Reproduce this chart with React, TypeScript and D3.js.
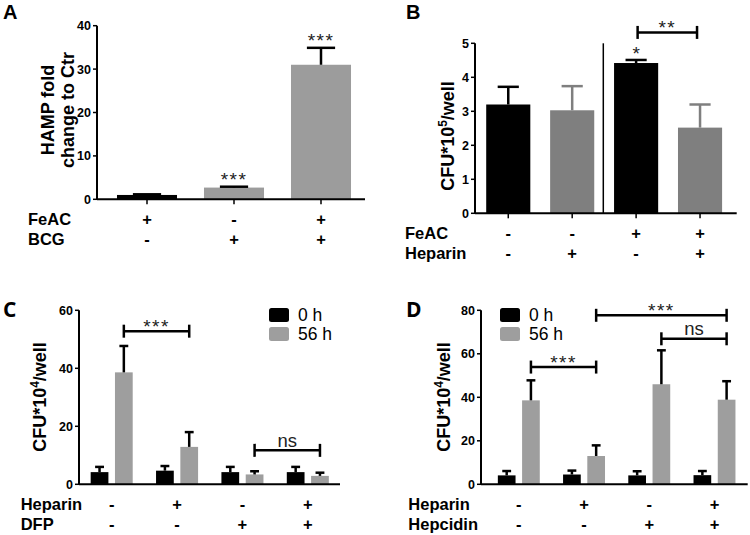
import React from "react";
import * as d3 from "d3";

// ---------- DATA ----------
// Panel A
const aCats = ["c1", "c2", "c3"];
const aFeAC = ["+", "-", "+"];
const aBCG = ["-", "+", "+"];
const aValues = [1.0, 2.7, 31.0];
const aErrors = [0.15, 0.2, 3.9];
const aStars = ["", "***", "***"];
const aTicks = [0, 10, 20, 30, 40];

// Panel B
const bCats = ["c1", "c2", "c3", "c4"];
const bFeAC = ["-", "-", "+", "+"];
const bHeparin = ["-", "+", "-", "+"];
const bValues = [3.2, 3.03, 4.42, 2.52];
const bErrors = [0.52, 0.71, 0.09, 0.68];
const bStars = ["", "", "*", ""];
const bTicks = [0, 1, 2, 3, 4, 5];
const bBrackets = [{ from: 2, to: 3, label: "**", level: 5.32 }];

// Panel C
const cCats = ["g1", "g2", "g3", "g4"];
const cHeparin = ["-", "+", "-", "+"];
const cDFP = ["-", "-", "+", "+"];
const c0h = [4.2, 4.7, 4.2, 4.2];
const c0hErr = [1.8, 1.6, 1.8, 1.8];
const c56h = [38.6, 12.9, 3.4, 2.9];
const c56hErr = [9.1, 5.1, 1.1, 1.1];
const cTicks = [0, 20, 40, 60];
const cBrackets = [
  { from: 0, to: 1, label: "***", level: 52.8 },
  { from: 2, to: 3, label: "ns", level: 11.7 },
];

// Panel D
const dCats = ["g1", "g2", "g3", "g4"];
const dHeparin = ["-", "+", "-", "+"];
const dHepcidin = ["-", "-", "+", "+"];
const d0h = [4.1, 4.5, 4.1, 4.2];
const d0hErr = [2.0, 1.8, 1.9, 1.9];
const d56h = [38.6, 13.0, 46.0, 38.9];
const d56hErr = [9.2, 4.9, 15.6, 8.5];
const dTicks = [0, 20, 40, 60, 80];
const dBrackets = [
  { from: 0, to: 1, label: "***", level: 53.9 },
  { from: 1, to: 3, label: "***", level: 77.7 },
  { from: 2, to: 3, label: "ns", level: 66.9 },
];

const seriesNames = ["0 h", "56 h"];

// ---------- STYLE ----------
const FONT = "'Liberation Sans', Arial, sans-serif";
const BLACK = "#000";
const GRAY_A = "#9c9c9c";
const GRAY_B = "#7f7f7f";
const GRAY_CD = "#9e9e9e";
const TICK_FS = 12.5;
const ROW_FS = 16.5;
const YLAB_FS = 18;

type Scale = (v: number) => number;

function YAxis({ x, y, ticks }: { x: number; y: Scale; ticks: number[] }) {
  const top = y(ticks[ticks.length - 1]);
  return (
    <g>
      <line x1={x} x2={x} y1={top} y2={y(0)} stroke={BLACK} strokeWidth={2} />
      {ticks.map((t) => (
        <g key={t}>
          <line x1={x - 4} x2={x} y1={y(t)} y2={y(t)} stroke={BLACK} strokeWidth={1.5} />
          <text x={x - 6} y={y(t)} dy="0.36em" textAnchor="end" fontSize={TICK_FS} fontWeight="bold">
            {t}
          </text>
        </g>
      ))}
    </g>
  );
}

function ErrBar({ cx, yTop, yBar, w, color }: { cx: number; yTop: number; yBar: number; w: number; color: string }) {
  return (
    <g stroke={color} strokeWidth={2.5}>
      <line x1={cx} x2={cx} y1={yBar} y2={yTop} />
      <line x1={cx - w / 2} x2={cx + w / 2} y1={yTop} y2={yTop} />
    </g>
  );
}

function Bracket({ x1, x2, y, label }: { x1: number; x2: number; y: number; label: string }) {
  const isStar = label.includes("*");
  return (
    <g>
      <g stroke={BLACK} strokeWidth={2.5}>
        <line x1={x1} x2={x2} y1={y} y2={y} />
        <line x1={x1} x2={x1} y1={y - 6.5} y2={y + 6.5} />
        <line x1={x2} x2={x2} y1={y - 6.5} y2={y + 6.5} />
      </g>
      <text
        x={(x1 + x2) / 2}
        y={isStar ? y + 2 : y - 3.5}
        textAnchor="middle"
        fontSize={isStar ? 19 : 18.5}
        letterSpacing={isStar ? 1.5 : 0}
        fill="#222"
      >
        {label}
      </text>
    </g>
  );
}

function RowLabels({ x, xs, rows }: { x: number; xs: number[]; rows: { name: string; vals: string[]; y: number }[] }) {
  return (
    <g fontSize={ROW_FS} fontWeight="bold">
      {rows.map((r) => (
        <g key={r.name}>
          <text x={x} y={r.y}>{r.name}</text>
          {r.vals.map((v, i) => (
            <text key={i} x={xs[i]} y={r.y} textAnchor="middle">{v}</text>
          ))}
        </g>
      ))}
    </g>
  );
}

function Legend({ x, y }: { x: number; y: number }) {
  const colors = [BLACK, GRAY_CD];
  return (
    <g>
      {seriesNames.map((s, i) => (
        <g key={s}>
          <rect x={x} y={y + i * 19} width={20} height={14} rx={2.5} fill={colors[i]} />
          <text x={x + 29} y={y + i * 19 + 7} dy="0.36em" fontSize={17.5}>{s}</text>
        </g>
      ))}
    </g>
  );
}

function CfuLabel({ x, y, exp }: { x: number; y: number; exp: string }) {
  return (
    <text transform={`translate(${x},${y}) rotate(-90)`} textAnchor="middle" fontSize={YLAB_FS} fontWeight="bold">
      CFU*10<tspan dy={-7} fontSize={12}>{exp}</tspan>
      <tspan dy={7}>/well</tspan>
    </text>
  );
}

function PanelA() {
  const axisX = 97, xEnd = 365;
  const y = d3.scaleLinear().domain([0, 40]).range([199.3, 25.7]);
  const x = d3.scaleBand<string>().domain(aCats).range([103.5, 364.5]).paddingInner(0.31).paddingOuter(0.155);
  const bw = x.bandwidth();
  const centers = aCats.map((c) => (x(c) as number) + bw / 2);
  return (
    <g>
      <text x={3} y={19} fontSize={20} fontWeight="bold">A</text>
      {aCats.map((c, i) => {
        const color = aBCG[i] === "-" ? BLACK : GRAY_A;
        return (
          <rect key={c} x={x(c)} y={y(aValues[i])} width={bw} height={y(0) - y(aValues[i])} fill={color} />
        );
      })}
      {aCats.map((c, i) => (
        <ErrBar key={c} cx={centers[i]} yBar={y(aValues[i])} yTop={y(aValues[i] + aErrors[i])} w={bw * 0.47} color={BLACK} />
      ))}
      {aCats.map((c, i) => (
        <text key={c} x={centers[i]} y={y(aValues[i] + aErrors[i]) - 1} textAnchor="middle" fontSize={19} letterSpacing={1.5} fill="#222">
          {aStars[i]}
        </text>
      ))}
      <YAxis x={axisX} y={y} ticks={aTicks} />
      <line x1={axisX} x2={xEnd} y1={y(0)} y2={y(0)} stroke={BLACK} strokeWidth={2} />
      {centers.map((cx, i) => (
        <line key={i} x1={cx} x2={cx} y1={y(0)} y2={y(0) + 5} stroke={BLACK} strokeWidth={1.5} />
      ))}
      <g fontSize={YLAB_FS} fontWeight="bold" textAnchor="middle">
        <text transform={`translate(48,110) rotate(-90)`} dy="0.36em">HAMP fold</text>
        <text transform={`translate(68,110) rotate(-90)`} dy="0.36em">change to Ctr</text>
      </g>
      <RowLabels
        x={28}
        xs={centers}
        rows={[
          { name: "FeAC", vals: aFeAC, y: 225 },
          { name: "BCG", vals: aBCG, y: 245 },
        ]}
      />
    </g>
  );
}

function PanelB() {
  const axisX = 475, xEnd = 736.7;
  const y = d3.scaleLinear().domain([0, 5]).range([213.3, 43.3]);
  const x = d3.scaleBand<string>().domain(bCats).range([476.3, 732]).paddingInner(0.31).paddingOuter(0.155);
  const bw = x.bandwidth();
  const centers = bCats.map((c) => (x(c) as number) + bw / 2);
  return (
    <g>
      <text x={406} y={18.5} fontSize={20} fontWeight="bold">B</text>
      {bCats.map((c, i) => {
        const color = bHeparin[i] === "-" ? BLACK : GRAY_B;
        return (
          <g key={c}>
            <rect x={x(c)} y={y(bValues[i])} width={bw} height={y(0) - y(bValues[i])} fill={color} />
            <ErrBar cx={centers[i]} yBar={y(bValues[i])} yTop={y(bValues[i] + bErrors[i])} w={bw * 0.48} color={color} />
            <text x={centers[i]} y={y(bValues[i] + bErrors[i]) - 0} textAnchor="middle" fontSize={19} fill="#222">
              {bStars[i]}
            </text>
          </g>
        );
      })}
      <line x1={603.3} x2={603.3} y1={y(5)} y2={y(0)} stroke={BLACK} strokeWidth={1.5} />
      {bBrackets.map((b, i) => (
        <Bracket key={i} x1={centers[b.from] + 1.5} x2={centers[b.to] - 3} y={y(b.level)} label={b.label} />
      ))}
      <YAxis x={axisX} y={y} ticks={bTicks} />
      <line x1={axisX} x2={xEnd} y1={y(0)} y2={y(0)} stroke={BLACK} strokeWidth={2} />
      {centers.map((cx, i) => (
        <line key={i} x1={cx} x2={cx} y1={y(0)} y2={y(0) + 5} stroke={BLACK} strokeWidth={1.5} />
      ))}
      <CfuLabel x={454} y={136} exp="5" />
      <RowLabels
        x={405}
        xs={centers}
        rows={[
          { name: "FeAC", vals: bFeAC, y: 238.5 },
          { name: "Heparin", vals: bHeparin, y: 258.5 },
        ]}
      />
    </g>
  );
}

function GroupedPanel({
  letter, letterX, axisX, xEnd, bandRange, domainMax, ticks, cats, s0, s0Err, s56, s56Err,
  brackets, legendX, labelX, rowX, row1, row2,
}: any) {
  const y = d3.scaleLinear().domain([0, domainMax]).range([484.3, 310.3]);
  const x = d3.scaleBand<string>().domain(cats).range(bandRange).paddingInner(0.357).paddingOuter(0.1785);
  const inner = d3.scaleBand<string>().domain(seriesNames).range([0, x.bandwidth()]).paddingInner(0.27);
  const bw = inner.bandwidth();
  const centers = cats.map((c: string) => (x(c) as number) + x.bandwidth() / 2);
  const gx = (c: string, s: string) => (x(c) as number) + (inner(s) as number);
  const series = [
    { name: seriesNames[0], vals: s0, errs: s0Err, color: BLACK },
    { name: seriesNames[1], vals: s56, errs: s56Err, color: GRAY_CD },
  ];
  return (
    <g>
      <text x={letterX} y={317} fontSize={21} fontWeight="bold" fontFamily="'Open Sans', sans-serif">{letter}</text>
      {cats.map((c: string, i: number) => (
        <g key={c}>
          {series.map((s) => (
            <g key={s.name}>
              <rect x={gx(c, s.name)} y={y(s.vals[i])} width={bw} height={y(0) - y(s.vals[i])} fill={s.color} />
              <ErrBar cx={gx(c, s.name) + bw / 2} yBar={y(s.vals[i])} yTop={y(s.vals[i] + s.errs[i])} w={bw * 0.5} color={BLACK} />
            </g>
          ))}
        </g>
      ))}
      {brackets.map((b: any, i: number) => (
        <Bracket
          key={i}
          x1={gx(cats[b.from], seriesNames[1]) + bw / 2}
          x2={gx(cats[b.to], seriesNames[1]) + bw / 2}
          y={y(b.level)}
          label={b.label}
        />
      ))}
      <YAxis x={axisX} y={y} ticks={ticks} />
      <line x1={axisX} x2={xEnd} y1={y(0)} y2={y(0)} stroke={BLACK} strokeWidth={2} />
      <Legend x={legendX} y={308} />
      <CfuLabel x={labelX} y={397} exp="4" />
      <RowLabels x={rowX} xs={centers} rows={[{ ...row1, y: 510 }, { ...row2, y: 530 }]} />
    </g>
  );
}

export default function App() {
  return (
    <svg
      width={750}
      height={535}
      style={{ position: "absolute", left: 0, top: 0, background: "#fff" }}
      fontFamily={FONT}
    >
      <rect width={750} height={535} fill="#fff" />
      <PanelA />
      <PanelB />
      <GroupedPanel
        letter="C" letterX={3} axisX={79} xEnd={340} bandRange={[79, 340.5]} domainMax={60} ticks={cTicks}
        cats={cCats} s0={c0h} s0Err={c0hErr} s56={c56h} s56Err={c56hErr} brackets={cBrackets}
        legendX={269} labelX={46} rowX={20.7}
        row1={{ name: "Heparin", vals: cHeparin }} row2={{ name: "DFP", vals: cDFP }}
      />
      <GroupedPanel
        letter="D" letterX={406} axisX={481} xEnd={747.7} bandRange={[486.2, 747.1]} domainMax={80} ticks={dTicks}
        cats={dCats} s0={d0h} s0Err={d0hErr} s56={d56h} s56Err={d56hErr} brackets={dBrackets}
        legendX={500} labelX={450} rowX={408.3}
        row1={{ name: "Heparin", vals: dHeparin }} row2={{ name: "Hepcidin", vals: dHepcidin }}
      />
    </svg>
  );
}
